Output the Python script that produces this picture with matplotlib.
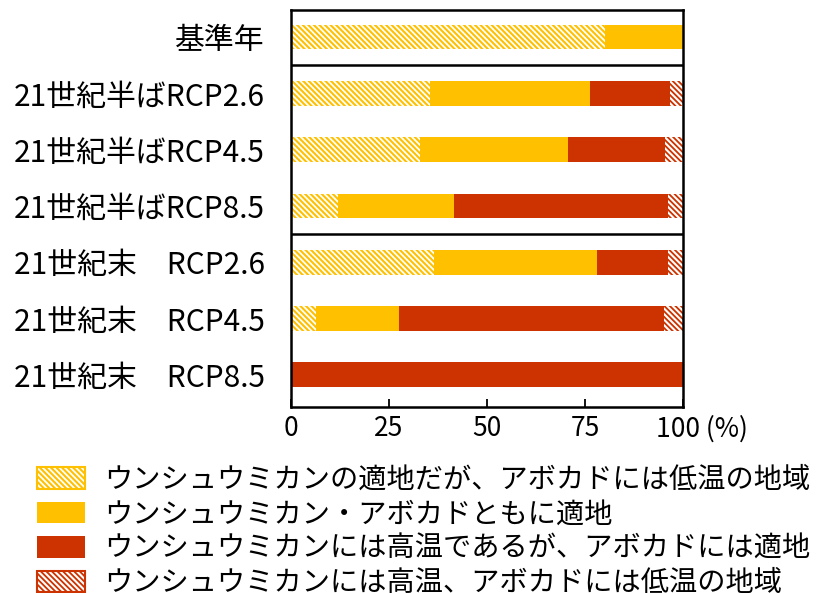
import matplotlib.pyplot as plt
from matplotlib.patches import Patch
from matplotlib.transforms import ScaledTranslation
from matplotlib.legend_handler import HandlerTuple

plt.rcParams['font.family'] = ['Noto Sans CJK JP', 'DejaVu Sans']
plt.rcParams['hatch.linewidth'] = 1.5

# データ
categories = ['基準年', '21世紀半ばRCP2.6', '21世紀半ばRCP4.5', '21世紀半ばRCP8.5',
              '21世紀末\u3000RCP2.6', '21世紀末\u3000RCP4.5', '21世紀末\u3000RCP8.5']
series_labels = ['ウンシュウミカンの適地だが、アボカドには低温の地域',
                 'ウンシュウミカン・アボカドともに適地',
                 'ウンシュウミカンには高温であるが、アボカドには適地',
                 'ウンシュウミカンには高温、アボカドには低温の地域']
cold_for_avocado = [80.0, 35.5, 32.9, 11.9, 36.4, 6.5, 0.0]
both_suitable = [20.0, 40.8, 37.8, 29.7, 41.6, 21.1, 0.0]
hot_for_mikan = [0.0, 20.5, 24.8, 54.5, 18.1, 67.6, 100.0]
hot_and_cold = [0.0, 3.2, 4.5, 3.9, 3.9, 4.8, 0.0]
x_ticks = [0, 25, 50, 75, 100]
x_tick_labels = ['0', '25', '50', '75', '100 (%)']

yellow = '#FFC000'
red = '#CC3300'
hatch = '\\' * 6

fig = plt.figure(figsize=(8.18, 5.93), dpi=100)
ax = fig.add_axes([0.3557, 0.3137, 0.4792, 0.6694])

y = list(range(len(categories)))
h = 0.44
left = [0.0] * len(categories)
ax.barh(y, cold_for_avocado, height=h, left=left, color='white',
        edgecolor=yellow, hatch=hatch, linewidth=0)
left = [a + b for a, b in zip(left, cold_for_avocado)]
ax.barh(y, both_suitable, height=h, left=left, color=yellow, linewidth=0)
left = [a + b for a, b in zip(left, both_suitable)]
ax.barh(y, hot_for_mikan, height=h, left=left, color=red, linewidth=0)
left = [a + b for a, b in zip(left, hot_for_mikan)]
ax.barh(y, hot_and_cold, height=h, left=left, color=red,
        edgecolor='white', hatch=hatch, linewidth=0)

# 区切り線
for sep in [0.5, 3.5]:
    ax.axhline(sep, color='black', linewidth=1.8)

ax.set_xlim(0, 100)
ax.set_ylim(6.57, -0.48)
ax.set_yticks(y)
ax.set_yticklabels(categories, fontsize=21.5)
ax.tick_params(axis='y', length=0, pad=19)
ax.set_xticks(x_ticks)
ax.set_xticklabels(x_tick_labels, fontsize=19)
ax.tick_params(axis='x', direction='in', length=6, width=1.3, pad=6)
lbl = ax.get_xticklabels()[-1]
lbl.set_horizontalalignment('left')
lbl.set_transform(lbl.get_transform() + ScaledTranslation(-0.27, 0, fig.dpi_scale_trans))
for s in ax.spines.values():
    s.set_linewidth(1.8)

# 凡例
handles = [
    (Patch(facecolor='white', edgecolor=yellow, hatch=hatch, linewidth=0),
     Patch(facecolor='none', edgecolor=yellow, linewidth=1.5)),
    Patch(facecolor=yellow, linewidth=0),
    Patch(facecolor=red, linewidth=0),
    (Patch(facecolor=red, edgecolor='white', hatch=hatch, linewidth=0),
     Patch(facecolor='none', edgecolor=red, linewidth=1.5)),
]
fig.legend(handles, series_labels, loc='upper left', bbox_to_anchor=(0.045, 0.216),
           frameon=False, fontsize=20.3, handlelength=1.7, handleheight=0.8,
           handletextpad=0.68, labelspacing=0.16, borderpad=0, borderaxespad=0,
           handler_map={tuple: HandlerTuple(ndivide=1, pad=0)})

plt.savefig('out.png', dpi=100)
